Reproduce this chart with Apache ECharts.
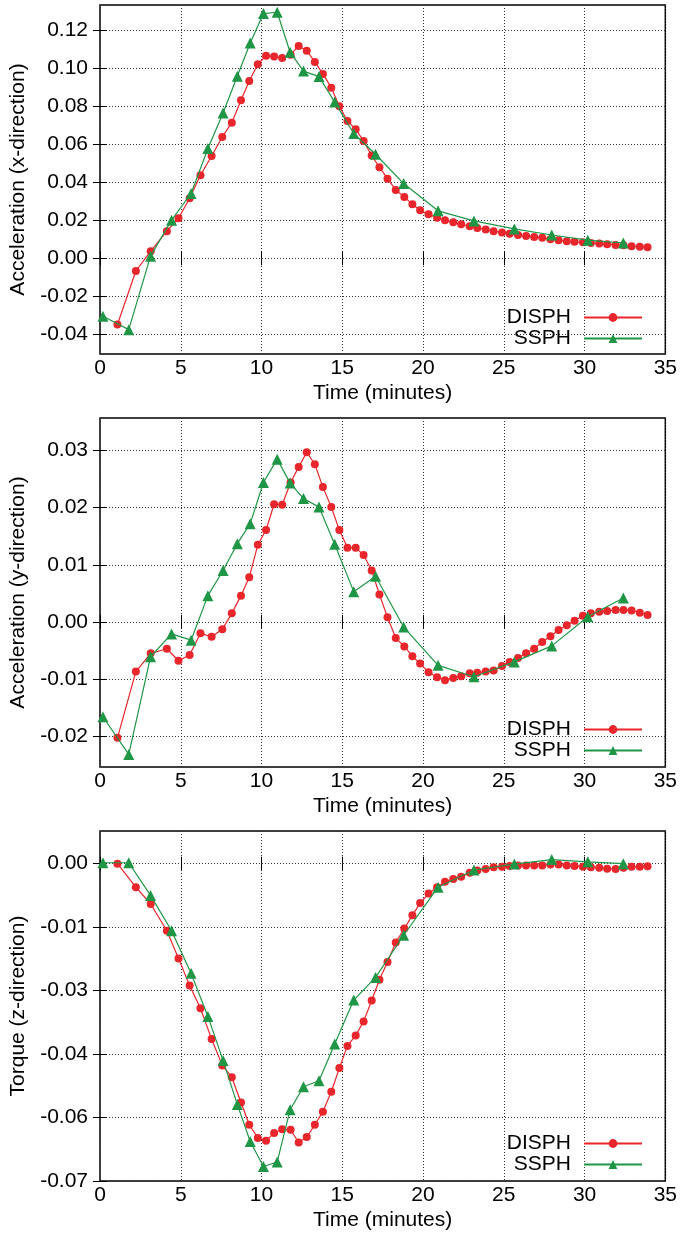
<!DOCTYPE html>
<html><head><meta charset="utf-8">
<script src="https://cdn.jsdelivr.net/npm/echarts@6/dist/echarts.min.js"></script>
<style>html,body{margin:0;padding:0;background:#fff}#c{width:680px;height:1237px}</style>
</head><body><div id="c"></div>
<script>
// ---- data ----
const dTime = [1.08, 2.22, 3.14, 4.14, 4.86, 5.55, 6.22, 6.91, 7.57, 8.16,
  8.73, 9.24, 9.77, 10.28, 10.78, 11.28, 11.8, 12.3, 12.8, 13.3,
  13.8, 14.32, 14.82, 15.32, 15.83, 16.32, 16.82, 17.3, 17.8,
  18.31, 18.84, 19.34, 19.82, 20.34, 20.87, 21.36, 21.87, 22.36, 22.89,
  23.36, 23.88, 24.37, 24.89, 25.36, 25.88, 26.38, 26.88, 27.38, 27.89,
  28.39, 28.9, 29.38, 29.9, 30.39, 30.91, 31.4, 31.92, 32.41, 32.91,
  33.42, 33.9];
const sTime = [0.18, 1.78, 3.13, 4.43, 5.64, 6.68, 7.62, 8.5, 9.3, 10.12, 10.97, 11.77,
  12.6, 13.56, 14.53, 15.71, 17.06, 18.8, 20.93, 23.15, 25.65, 27.97, 30.2, 32.4];

const accXDisph = [-0.0348, -0.0067, 0.0037, 0.0142, 0.0210, 0.0315, 0.0436, 0.0537, 0.0637, 0.0712,
  0.0830, 0.0931, 0.1019, 0.1064, 0.1059, 0.1052, 0.1069, 0.1115, 0.1090, 0.1031,
  0.0968, 0.0896, 0.0798, 0.0721, 0.0677, 0.0616, 0.0539, 0.0478, 0.0418,
  0.0359, 0.0322, 0.0283, 0.0252, 0.0231, 0.0212, 0.0199, 0.0189, 0.0178, 0.0168,
  0.0159, 0.0151, 0.0142, 0.0135, 0.0128, 0.0122, 0.0117, 0.0112, 0.0107, 0.0100,
  0.0095, 0.0089, 0.0086, 0.0084, 0.0080, 0.0077, 0.0074, 0.0070, 0.0068, 0.0063,
  0.0060, 0.0058];
const accXSsph = [-0.0305, -0.0375, 0.0011, 0.0200, 0.0340, 0.0576, 0.0763, 0.0956, 0.1130, 0.1285,
  0.1292, 0.1082, 0.0983, 0.0954, 0.0820, 0.0655, 0.0546, 0.0392, 0.0249, 0.0196, 0.0154,
  0.0122, 0.0095, 0.0080];

const accYDisph = [-0.0203, -0.0087, -0.0055, -0.0047, -0.0068, -0.0058, -0.0020, -0.0026, -0.0013, 0.0015,
  0.0046, 0.0078, 0.0135, 0.0161, 0.0206, 0.0205, 0.0244, 0.0271, 0.0297, 0.0276,
  0.0236, 0.0201, 0.0161, 0.0130, 0.0130, 0.0117, 0.0090, 0.0048, 0.0008,
  -0.0028, -0.0043, -0.0060, -0.0073, -0.0088, -0.0097, -0.0102, -0.0098, -0.0095, -0.0090,
  -0.0089, -0.0087, -0.0085, -0.0077, -0.0070, -0.0063, -0.0055, -0.0047, -0.0035, -0.0025,
  -0.0014, -0.0006, 0.0002, 0.0011, 0.0015, 0.0018, 0.0019, 0.0021, 0.0021, 0.0020,
  0.0016, 0.0012];
const accYSsph = [-0.0166, -0.0232, -0.0061, -0.0021, -0.0032, 0.0046, 0.0090, 0.0137, 0.0172, 0.0244,
  0.0285, 0.0243, 0.0216, 0.0201, 0.0136, 0.0053, 0.0080, -0.0009, -0.0076, -0.0096,
  -0.0070, -0.0042, 0.0009, 0.0042];

const torqueDisph = [0.0000, -0.0052, -0.0089, -0.0148, -0.0209, -0.0269, -0.0319, -0.0387, -0.0445, -0.0471,
  -0.0527, -0.0576, -0.0605, -0.0611, -0.0594, -0.0586, -0.0587, -0.0615, -0.0603, -0.0576,
  -0.0547, -0.0503, -0.0451, -0.0402, -0.0379, -0.0348, -0.0302, -0.0256, -0.0217,
  -0.0174, -0.0143, -0.0114, -0.0087, -0.0066, -0.0052, -0.0040, -0.0034, -0.0029, -0.0020,
  -0.0015, -0.0012, -0.0008, -0.0007, -0.0005, -0.0004, -0.0004, -0.0004, -0.0004, -0.0002,
  -0.0002, -0.0004, -0.0005, -0.0007, -0.0008, -0.0009, -0.0011, -0.0012, -0.0009, -0.0007,
  -0.0007, -0.0006];
const torqueSsph = [0.0002, 0.0002, -0.0070, -0.0148, -0.0242, -0.0337, -0.0434, -0.0531, -0.0613, -0.0668,
  -0.0658, -0.0543, -0.0492, -0.0479, -0.0398, -0.0301, -0.0251, -0.0158, -0.0052, -0.0014,
  -0.0001, 0.0009, 0.0004, 0.0000];

const ticksTime = [0, 5, 10, 15, 20, 25, 30, 35];
const ticksAccX = [-0.04, -0.02, 0.00, 0.02, 0.04, 0.06, 0.08, 0.10, 0.12];
const ticksAccY = [-0.02, -0.01, 0.00, 0.01, 0.02, 0.03];
const ticksTorque = [0, -0.014, -0.028, -0.042, -0.056, -0.07];

const seriesNames = ['DISPH', 'SSPH'];
const xTitle = 'Time (minutes)';
const yTitles = ['Acceleration (x-direction)', 'Acceleration (y-direction)', 'Torque (z-direction)'];

// ---- layout / style ----
const FONT = "'Liberation Sans', Arial, Helvetica, sans-serif";
const FS = 21;
const RED = '#e8262b';
const GREEN = '#1f9646';
const panels = [
  { top: 5, height: 349, min: -0.0503, max: 0.133, ticks: ticksAccX, d: accXDisph, s: accXSsph, legendTop: 307 },
  { top: 418, height: 349, min: -0.0254, max: 0.0357, ticks: ticksAccY, d: accYDisph, s: accYSsph, legendTop: 719 },
  { top: 831, height: 350, min: -0.07, max: 0.0072, ticks: ticksTorque, d: torqueDisph, s: torqueSsph, legendTop: 1133 }
];

const grid = [], xAxis = [], yAxis = [], series = [], legend = [];
const gridLine = { show: true, lineStyle: { color: '#333', width: 1, type: [1, 2] } };
const tickStyle = { show: true, inside: true, length: 7, lineStyle: { color: '#000', width: 1 } };

panels.forEach((p, i) => {
  grid.push({ left: 100, width: 566, top: p.top, height: p.height, show: true,
    borderColor: '#000', borderWidth: 1.5, backgroundColor: 'transparent' });
  xAxis.push({ type: 'value', gridIndex: i, position: 'bottom', min: 0, max: 35, interval: 5,
    axisLine: { show: false },
    axisTick: Object.assign({ customValues: ticksTime }, tickStyle),
    splitLine: gridLine,
    axisLabel: { customValues: ticksTime, fontFamily: FONT, fontSize: FS, color: '#000', margin: 4 },
    name: xTitle, nameLocation: 'middle', nameGap: 29,
    nameTextStyle: { fontFamily: FONT, fontSize: FS, color: '#000' } });
  xAxis.push({ type: 'value', gridIndex: i, position: 'top', min: 0, max: 35, interval: 5,
    axisLine: { show: false }, axisTick: Object.assign({ customValues: ticksTime }, tickStyle),
    splitLine: { show: false }, axisLabel: { show: false } });
  yAxis.push({ type: 'value', gridIndex: i, position: 'left', min: p.min, max: p.max,
    axisLine: { show: false },
    axisTick: Object.assign({ customValues: p.ticks }, tickStyle),
    splitLine: gridLine,
    axisLabel: { customValues: p.ticks, fontFamily: FONT, fontSize: FS, color: '#000', margin: 12,
      formatter: v => Number(v).toFixed(2) },
    name: yTitles[i], nameLocation: 'middle', nameGap: 71, nameRotate: 90,
    nameTextStyle: { fontFamily: FONT, fontSize: FS, color: '#000' } });
  yAxis.push({ type: 'value', gridIndex: i, position: 'right', min: p.min, max: p.max,
    axisLine: { show: false }, axisTick: Object.assign({ customValues: p.ticks }, tickStyle),
    splitLine: { show: false }, axisLabel: { show: false } });
  series.push({ name: seriesNames[0], type: 'line', xAxisIndex: 2 * i, yAxisIndex: 2 * i,
    data: dTime.map((t, k) => [t, p.d[k]]), symbol: 'circle', symbolSize: 8,
    lineStyle: { color: RED, width: 1.2 }, itemStyle: { color: RED }, z: 3 });
  series.push({ name: seriesNames[1], type: 'line', xAxisIndex: 2 * i, yAxisIndex: 2 * i,
    data: sTime.map((t, k) => [t, p.s[k]]), symbol: 'triangle', symbolSize: 11,
    lineStyle: { color: GREEN, width: 1.2 }, itemStyle: { color: GREEN }, z: 4 });
  legend.push({ data: seriesNames, orient: 'vertical', align: 'right', right: 37, top: p.legendTop,
    padding: 0, itemWidth: 58, itemHeight: 11, itemGap: 0, selectedMode: false,
    textStyle: { fontFamily: FONT, fontSize: FS, lineHeight: 21, color: '#000', padding: [0, 8, 0, 0] } });
});

const chart = echarts.init(document.getElementById('c'), null, { renderer: 'canvas' });
chart.setOption({ animation: false, backgroundColor: '#fff', grid, xAxis, yAxis, series, legend });
</script></body></html>
